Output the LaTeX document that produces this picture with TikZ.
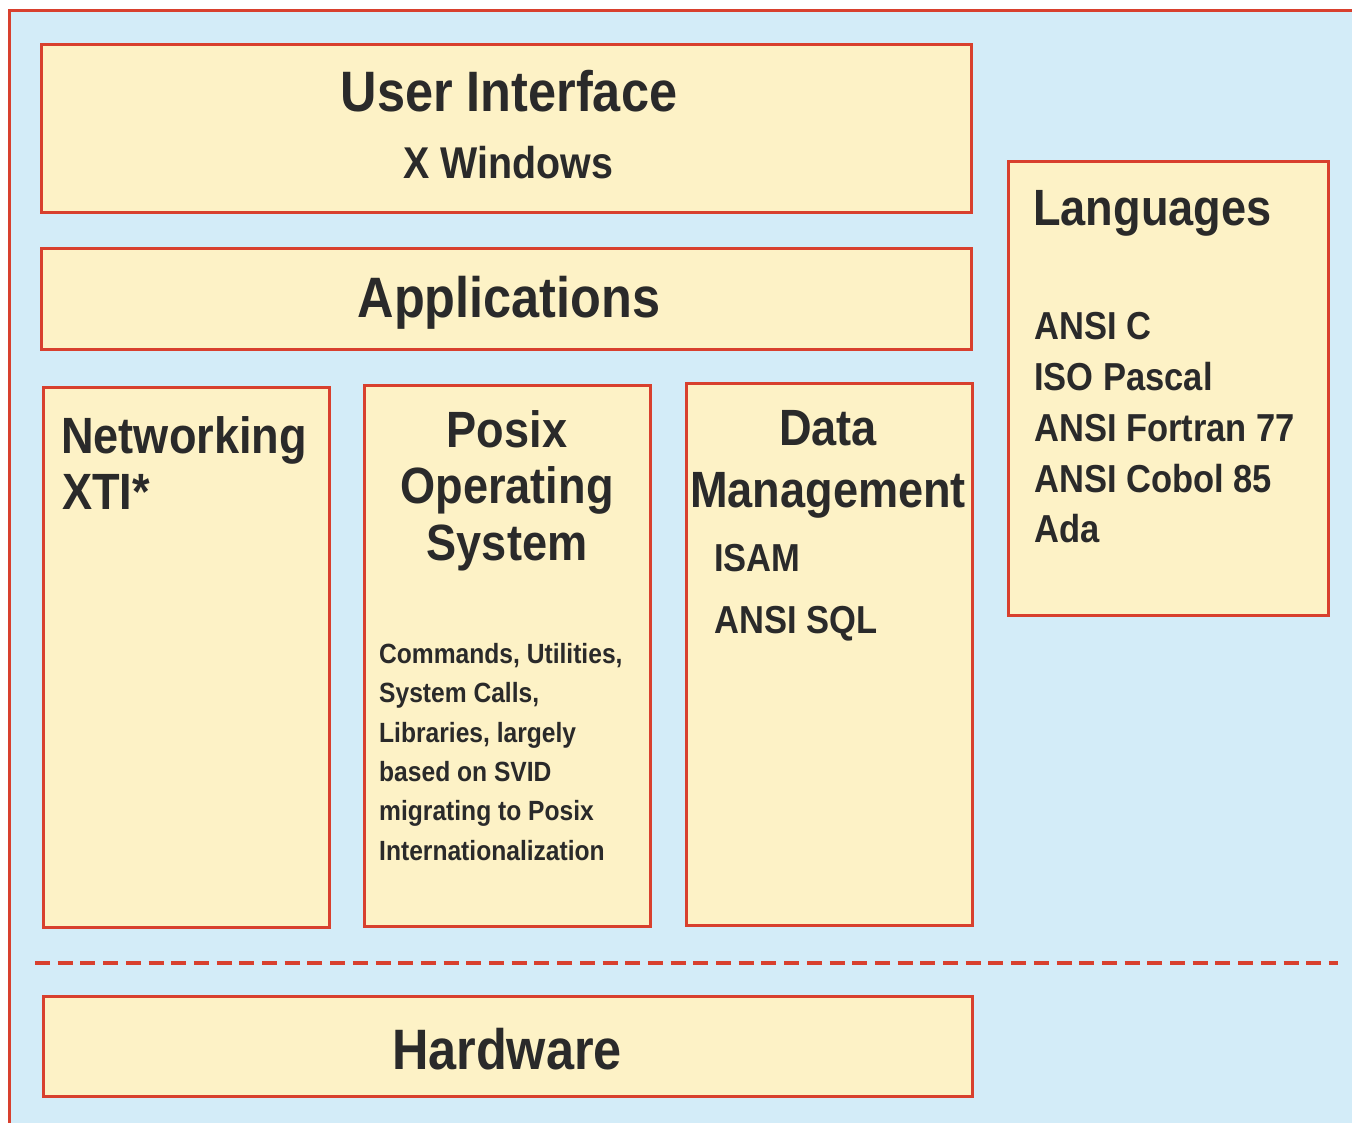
\documentclass[tikz,border=0pt]{standalone}
\usepackage{fontspec}
\setmainfont{Liberation Sans}[FakeStretch=0.885]
\usetikzlibrary{fit}
\definecolor{bgblue}{HTML}{D3ECF8}
\definecolor{boxfill}{HTML}{FDF2C6}
\definecolor{redline}{HTML}{D8402E}
\definecolor{ink}{HTML}{2A2A2A}
\tikzset{
  box/.style={draw=redline, fill=boxfill, line width=3pt, inner sep=0pt, rectangle},
  lbl/.style={inner sep=0pt, text=ink},
  fbig/.style={lbl, font=\fontsize{57}{60}\selectfont\bfseries},
  fmed/.style={lbl, font=\fontsize{51}{54}\selectfont\bfseries},
  fsub/.style={lbl, font=\fontsize{44.5}{48}\selectfont\bfseries},
  flist/.style={lbl, font=\fontsize{39}{42}\selectfont\bfseries},
  fsmall/.style={lbl, font=\fontsize{27.8}{30}\selectfont\bfseries},
}
\begin{document}
\begin{tikzpicture}[x=1pt, y=-1pt]
\useasboundingbox (0,0) rectangle (1352,1123);
\fill[white] (0,0) rectangle (1352,1123);
\fill[bgblue] (9,11) rectangle (1352,1123);
\draw[redline, line width=3pt] (9,1123) -- (9,11) -- (1352,11);

% boxes
\node[box, fit={(41,45)(971,213)}] (ui) {};
\node[box, fit={(41,249)(971,349)}] (app) {};
\node[box, fit={(43,387)(329,927)}] (net) {};
\node[box, fit={(364,385)(650,926)}] (posix) {};
\node[box, fit={(686,383)(972,925)}] (data) {};
\node[box, fit={(1008,162)(1328,615)}] (lang) {};
\node[box, fit={(43,996)(972,1096)}] (hw) {};

% dashed separator
\coordinate (dl) at (35,963);
\coordinate (dr) at (1338,963);
\draw[redline, line width=4pt, dash pattern=on 15pt off 7.7pt] (dl) -- (dr);

% texts
\node[fbig, anchor=base] (tui) at (509,112) {User Interface};
\node[fsub, anchor=base] (txw) at (508,179) {X Windows};
\node[fbig, anchor=base] (tapp) at (509,317) {Applications};
\node[fbig, anchor=base] (thw) at (507,1069) {Hardware};

\node[fmed, anchor=base west] (tnet) at (61,453) {Networking};
\node[fmed, anchor=base west] (txti) at (62,509) {XTI*};

\node[fmed, anchor=base] (tpos1) at (507,447) {Posix};
\node[fmed, anchor=base] (tpos2) at (507,503) {Operating};
\node[fmed, anchor=base] (tpos3) at (507,560) {System};

\node[fsmall, anchor=base west] (s1) at (379,663) {Commands, Utilities,};
\node[fsmall, anchor=base west] (s2) at (379,702) {System Calls,};
\node[fsmall, anchor=base west] (s3) at (379,742) {Libraries, largely};
\node[fsmall, anchor=base west] (s4) at (379,781) {based on SVID};
\node[fsmall, anchor=base west] (s5) at (379,820) {migrating to Posix};
\node[fsmall, anchor=base west] (s6) at (379,860) {Internationalization};

\node[fmed, anchor=base] (tdm1) at (828,445) {Data};
\node[fmed, anchor=base] (tdm2) at (828,507) {Management};
\node[flist, anchor=base west] (tisam) at (714,571) {ISAM};
\node[flist, anchor=base west] (tsql) at (714,633) {ANSI SQL};

\node[fmed, anchor=base west] (tlang) at (1033,226) {Languages};
\node[flist, anchor=base west] (l1) at (1034,340) {ANSI C};
\node[flist, anchor=base west] (l2) at (1034,390) {ISO Pascal};
\node[flist, anchor=base west] (l3) at (1034,441) {ANSI Fortran 77};
\node[flist, anchor=base west] (l4) at (1034,492) {ANSI Cobol 85};
\node[flist, anchor=base west] (l5) at (1034,542) {Ada};
\end{tikzpicture}
\end{document}
